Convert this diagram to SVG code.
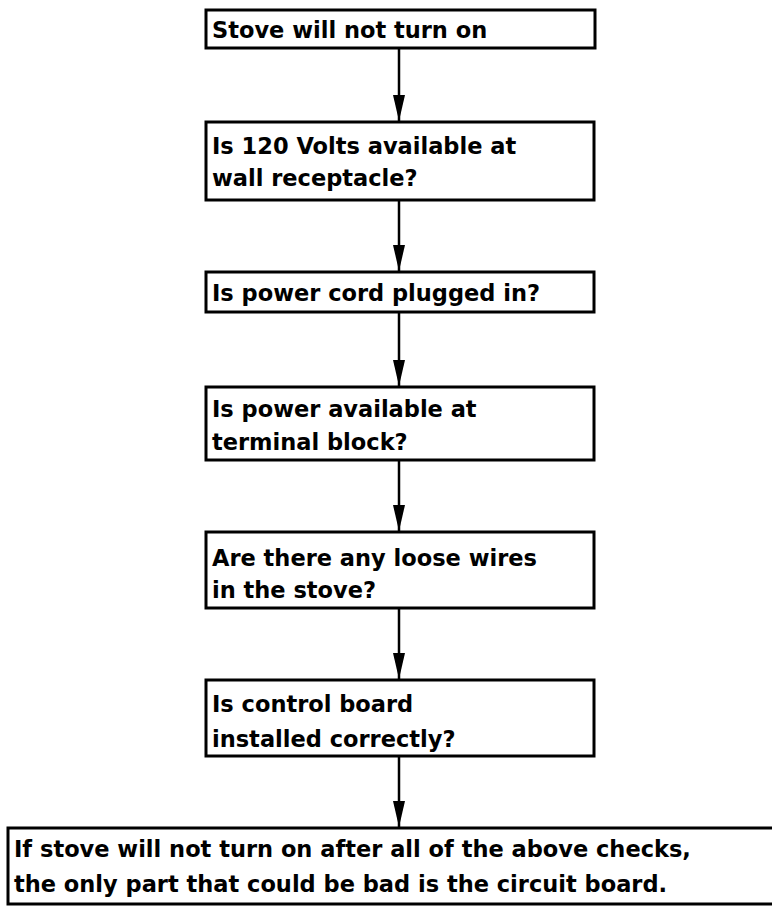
<svg xmlns="http://www.w3.org/2000/svg" width="772" height="906" viewBox="0 0 772 906">
<style>
.box{fill:#fff;stroke:#000;stroke-width:3}
.t{font-family:"DejaVu Sans",sans-serif;font-size:22.5px;font-weight:bold;fill:#000}
.c{stroke:#000;stroke-width:2.5;fill:none}
</style>
<defs>
<marker id="ah" viewBox="0 0 26 14" refX="26" refY="7" markerWidth="26" markerHeight="14" markerUnits="userSpaceOnUse" orient="auto">
<path d="M0,1 L26,7 L0,13 z" fill="#000"/>
</marker>
</defs>
<rect width="772" height="906" fill="#fff"/>
<g id="connectors">
<line class="c" x1="399" y1="49" x2="399" y2="121" marker-end="url(#ah)"/>
<line class="c" x1="399" y1="201" x2="399" y2="271" marker-end="url(#ah)"/>
<line class="c" x1="399" y1="313" x2="399" y2="386" marker-end="url(#ah)"/>
<line class="c" x1="399" y1="461" x2="399" y2="531" marker-end="url(#ah)"/>
<line class="c" x1="399" y1="609" x2="399" y2="679" marker-end="url(#ah)"/>
<line class="c" x1="399" y1="757" x2="399" y2="827" marker-end="url(#ah)"/>
</g>
<g id="n1"><rect class="box" x="206" y="10" width="389" height="38"/><text class="t" x="212" y="38">Stove will not turn on</text></g>
<g id="n2"><rect class="box" x="206" y="122" width="388" height="78"/><text class="t" x="212" y="154">Is 120 Volts available at</text><text class="t" x="212" y="186">wall receptacle?</text></g>
<g id="n3"><rect class="box" x="206" y="272" width="388" height="40"/><text class="t" x="212" y="301">Is power cord plugged in?</text></g>
<g id="n4"><rect class="box" x="206" y="387" width="388" height="73"/><text class="t" x="212" y="417">Is power available at</text><text class="t" x="212" y="450">terminal block?</text></g>
<g id="n5"><rect class="box" x="206" y="532" width="388" height="76"/><text class="t" x="212" y="566">Are there any loose wires</text><text class="t" x="212" y="598">in the stove?</text></g>
<g id="n6"><rect class="box" x="206" y="680" width="388" height="76"/><text class="t" x="212" y="712">Is control board</text><text class="t" x="212" y="747">installed correctly?</text></g>
<g id="n7"><rect class="box" x="8" y="828" width="790" height="76"/><text class="t" x="14" y="857">If stove will not turn on after all of the above checks,</text><text class="t" x="14" y="892">the only part that could be bad is the circuit board.</text></g>
</svg>
